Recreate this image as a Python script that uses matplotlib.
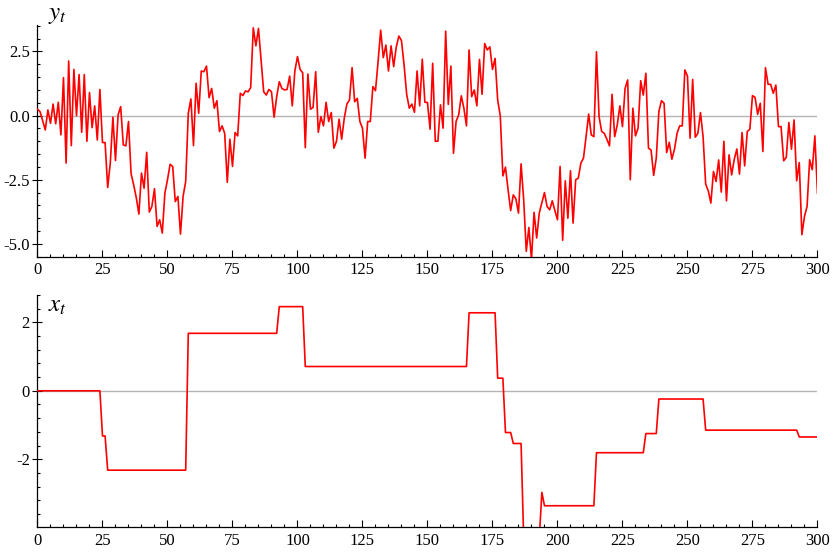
import numpy as np
import matplotlib
matplotlib.use("Agg")
import matplotlib.pyplot as plt
from matplotlib.ticker import MultipleLocator, FormatStrFormatter

plt.rcParams['font.family'] = ['Liberation Serif', 'DejaVu Serif']
plt.rcParams['axes.unicode_minus'] = False
plt.rcParams['mathtext.fontset'] = 'stix'

# observed series y_t, t = 0..300
y_t = [
    0.25, 0.15, -0.2, -0.56, 0.22, -0.3, 0.45, -0.32, 0.52, -0.75,
    1.48, -1.85, 2.13, -1.17, 1.8, 0.0, 1.6, -0.65, 1.6, -1.0,
    0.9, -0.47, 0.38, -0.95, 1.02, -1.05, -1.05, -2.8, -1.85, -0.06,
    -1.75, 0.03, 0.35, -1.14, -1.18, -0.23, -2.27, -2.7, -3.2, -3.84,
    -2.24, -2.83, -1.43, -3.76, -3.54, -2.85, -4.32, -4.06, -4.58, -3.02,
    -2.5, -1.9, -1.98, -3.35, -3.15, -4.62, -3.15, -2.57, 0.09, 0.65,
    -1.17, 1.26, 0.09, 1.74, 1.71, 1.93, 0.7, 1.06, 0.29, 0.58,
    -0.62, -0.4, -0.69, -2.6, -0.92, -1.98, -0.66, -0.79, 0.87, 0.78,
    0.96, 0.93, 1.09, 3.42, 2.72, 3.4, 2.17, 0.93, 0.8, 1.02,
    0.93, -0.06, 0.74, 1.32, 1.06, 1.0, 1.02, 1.54, 0.38, 1.75,
    2.3, 1.8, 1.67, -1.25, 1.62, 0.25, 0.32, 1.71, -0.65, -0.04,
    -0.4, 0.52, -0.23, 0.12, -1.27, -1.0, -0.14, -0.92, -0.1, 0.45,
    0.61, 1.87, 0.54, 0.67, -0.23, -0.49, -1.66, -0.23, -0.23, 1.13,
    0.97, 2.1, 3.33, 2.26, 2.75, 1.74, 2.72, 1.91, 2.68, 3.1,
    2.92, 1.97, 0.83, 0.29, 0.45, 0.13, 1.74, 0.38, 2.2, 0.52,
    0.51, -0.53, 2.04, -1.0, -1.0, 0.42, -0.49, 3.29, 0.44, 1.93,
    -1.47, -0.23, 0.03, 0.77, 0.29, -0.4, 2.56, 0.74, 1.0, 0.38,
    2.19, 0.83, 2.81, 2.56, 2.68, 1.8, 2.23, 0.61, -0.01, -2.35,
    -2.01, -2.89, -3.7, -3.09, -3.24, -3.8, -1.88, -3.28, -5.29, -4.36,
    -5.6, -3.77, -4.77, -3.8, -3.39, -3.0, -3.54, -3.67, -3.32, -3.7,
    -4.06, -1.98, -4.86, -2.54, -4.0, -2.15, -4.19, -2.5, -2.44, -1.85,
    -1.66, -0.82, 0.06, -0.75, -0.82, 2.49, -0.04, -0.62, -0.69, -0.92,
    -1.18, 0.83, -0.82, -0.36, 0.38, -0.43, 1.06, 1.39, -2.5, 0.29,
    -0.79, -0.49, 1.36, 0.8, 1.65, -1.27, -1.34, -2.33, -1.66, 0.16,
    0.58, 0.48, -1.44, -1.04, -1.7, -1.31, -0.69, -0.4, -0.4, 1.78,
    1.54, -0.88, 1.41, -0.84, -0.69, 0.12, -0.82, -2.67, -2.93, -3.41,
    -2.18, -2.57, -1.73, -2.98, -1.0, -3.32, -1.53, -2.31, -1.7, -1.3,
    -2.28, -0.66, -1.96, -0.62, -0.53, 0.78, 0.71, 0.05, 0.48, -1.4,
    1.87, 1.22, 1.22, 0.87, 1.19, -0.43, -0.43, -1.76, -1.63, -0.27,
    -1.31, -0.17, -2.54, -1.83, -4.64, -3.93, -3.54, -1.72, -2.11, -0.79,
    -3.02,
]

# hidden state x_t as levels and how many steps each one lasts
x_levels = [0.0, -1.32, -2.32, 1.68, 2.46, 0.71, 2.28, 0.37, -1.22, -1.54,
            -4.3, -2.97, -3.36, -1.81, -1.25, -0.24, -1.15, -1.35]
x_runs = [25, 2, 31, 35, 10, 63, 11, 3, 3, 4,
          7, 1, 20, 19, 5, 18, 36, 8]
x_t = np.repeat(x_levels, x_runs)

t = np.arange(len(y_t))

fig = plt.figure(figsize=(8.35, 5.54), dpi=100)
ax1 = fig.add_axes([0.0449, 0.5366, 0.9341, 0.4182])
ax2 = fig.add_axes([0.0449, 0.0482, 0.9341, 0.4193])


def style(ax):
    ax.spines['top'].set_visible(False)
    ax.spines['right'].set_visible(False)
    for s in ('left', 'bottom'):
        ax.spines[s].set_linewidth(0.9)
    ax.tick_params(which='both', direction='in', top=False, right=False,
                   labelsize=12, width=0.8)
    ax.tick_params(axis='x', which='major', length=5, pad=4)
    ax.tick_params(axis='y', which='major', direction='inout', length=7,
                   pad=2)
    ax.tick_params(which='minor', length=2.5)
    ax.set_xlim(0, 300)
    ax.xaxis.set_major_locator(MultipleLocator(25))
    ax.xaxis.set_minor_locator(MultipleLocator(5))
    ax.axhline(0, color='#b4b4b4', lw=1.0, zorder=1)


ax1.plot(t, y_t, color='red', lw=1.2, zorder=3)
style(ax1)
ax1.set_ylim(-5.5, 3.53)
ax1.yaxis.set_major_locator(MultipleLocator(2.5))
ax1.yaxis.set_minor_locator(MultipleLocator(0.5))
ax1.yaxis.set_major_formatter(FormatStrFormatter('%.1f'))
fig.text(0.058, 0.993, r'$y_t$', fontsize=18, ha='left', va='top')

ax2.plot(t, x_t, color='red', lw=1.2, zorder=3)
style(ax2)
ax2.set_ylim(-3.99, 2.8)
ax2.yaxis.set_major_locator(MultipleLocator(2))
ax2.yaxis.set_minor_locator(MultipleLocator(0.4))
fig.text(0.058, 0.4675, r'$x_t$', fontsize=18, ha='left', va='top')

fig.savefig('out.png', dpi=100)
